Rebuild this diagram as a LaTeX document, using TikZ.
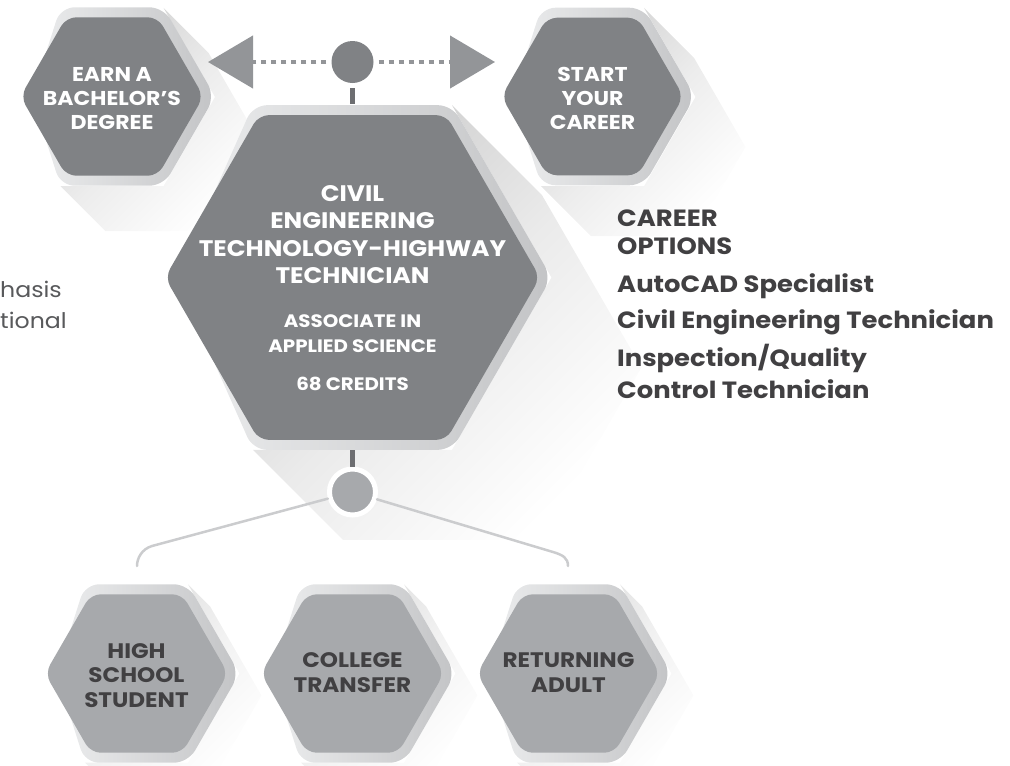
\documentclass[tikz,border=0pt]{standalone}
\usepackage{fontspec}
\setmainfont{Poppins}[FakeStretch=1.1]
\usetikzlibrary{arrows.meta}
\definecolor{hexdark}{HTML}{808285}
\definecolor{hexlight}{HTML}{A7A9AC}
\definecolor{ringL}{HTML}{ECEDEE}
\definecolor{ringR}{HTML}{C3C4C6}
\definecolor{txtdark}{HTML}{414042}
\definecolor{fraggray}{HTML}{58595B}
\definecolor{arrgray}{HTML}{939598}
\definecolor{stemgray}{HTML}{6D6E71}
\definecolor{branchgray}{HTML}{CBCCCE}
\newcommand\hexpath[4]{%
  \pgfmathsetmacro\myhh{0.866*(#3)}%
  \pgfmathsetmacro\myhw{0.5*(#3)}%
  \path[#4] (#1,#2+\myhh) -- (#1-\myhw,#2+\myhh) -- (#1-#3,#2) -- (#1-\myhw,#2-\myhh)
    -- (#1+\myhw,#2-\myhh) -- (#1+#3,#2) -- (#1+\myhw,#2+\myhh) -- cycle;}
\newcommand\hexshadow[5]{%
  \pgfmathsetmacro\myhh{0.866*(#3)}%
  \pgfmathsetmacro\myhw{0.5*(#3)}%
  \shade[shadowfill=#5] (#1+\myhw,#2-\myhh) -- (#1+#3,#2) -- (#1+\myhw,#2+\myhh) -- (#1-\myhw,#2+\myhh)
    -- (#1-\myhw+#4,#2+\myhh+#4) -- (#1+\myhw+#4,#2+\myhh+#4) -- (#1+#3+#4,#2+#4)
    -- (#1+\myhw+#4,#2-\myhh+#4) -- cycle;}
\newcommand\hexagonbox[4]{% cx cy innerhalfwidth fillcolor
  \hexpath{#1}{#2}{#3+11.5}{rounded corners=14pt, left color=ringL, right color=ringR}%
  \hexpath{#1}{#2}{#3}{rounded corners=10pt, fill=#4}}
\tikzset{
  shadowfill/.style={top color=black!#1, bottom color=white, middle color=black!#1!white!40, shading angle=45},
  toptext/.style={text=white, font=\bfseries\fontsize{20}{23.8}\selectfont, align=center, inner sep=0pt, anchor=base},
  bottext/.style={text=txtdark, font=\bfseries\fontsize{21}{24.5}\selectfont, align=center, inner sep=0pt, anchor=base},
  careertext/.style={text=txtdark, font=\bfseries\fontsize{23.5}{27.5}\selectfont, align=left, inner sep=0pt, anchor=base west},
  stemline/.style={draw=stemgray, line width=5pt},
  dotline/.style={draw=arrgray, line width=4.5pt, dash pattern=on 5.5pt off 4.5pt, -{Triangle[length=45pt,width=52pt]}},
  branch/.style={draw=branchgray, line width=2.5pt, line cap=round},
}
\begin{document}
\begin{tikzpicture}[x=1pt,y=-1pt]
\useasboundingbox (0,0) rectangle (1010,766);
% shadows
\hexshadow{112}{97}{103}{45}{18}
\hexshadow{592.5}{97}{103}{50}{18}
\hexshadow{352.5}{277.5}{199}{90}{20}
\hexshadow{136.5}{673.5}{103}{22}{13}
\hexshadow{352.5}{673.5}{103}{22}{13}
\hexshadow{568.5}{673.5}{103}{22}{13}
% hexagons
\hexagonbox{112}{96.5}{91.5}{hexdark}
\hexagonbox{592.5}{96.5}{91}{hexdark}
\hexagonbox{352.5}{277.5}{187.5}{hexdark}
\hexagonbox{136.5}{673.5}{91.5}{hexlight}
\hexagonbox{352.5}{673.5}{91.5}{hexlight}
\hexagonbox{568.5}{673.5}{91.5}{hexlight}
% texts in hexagons (anchor = baseline of the last line)
\node[toptext] (earn) at (112,129.3) {EARN A\\BACHELOR’S\\DEGREE};
\node[toptext] (start) at (592.5,129) {START\\YOUR\\CAREER};
\node[toptext, font=\bfseries\fontsize{22.5}{27.2}\selectfont] (civil) at (352.5,283.3) {CIVIL\\ENGINEERING\\TECHNOLOGY-HIGHWAY\\TECHNICIAN};
\node[toptext, font=\bfseries\fontsize{18}{25}\selectfont] (aas) at (352.5,352) {ASSOCIATE IN\\APPLIED SCIENCE};
\node[toptext, font=\bfseries\fontsize{18}{25}\selectfont] (credits) at (352.5,390) {68 CREDITS};
\node[bottext] (high) at (136.5,707) {HIGH\\SCHOOL\\STUDENT};
\node[bottext] (college) at (352.5,692) {COLLEGE\\TRANSFER};
\node[bottext] (returning) at (568.5,692) {RETURNING\\ADULT};
% left fragment
\node[text=fraggray, font=\fontsize{21.5}{31}\selectfont, align=left, inner sep=0pt, anchor=base west] (frag) at (0,328) {hasis\\tional};
% career options
\node[careertext] (copt) at (617,254) {CAREER\\OPTIONS};
\node[careertext] (c1) at (617,292) {AutoCAD Specialist};
\node[careertext] (c2) at (617,328) {Civil Engineering Technician};
\node[careertext, font=\bfseries\fontsize{23.5}{32}\selectfont] (c3) at (617,398) {Inspection/Quality\\Control Technician};
% connectors top
\coordinate (ctop) at (352.5,104);
\coordinate (cbot) at (352.5,450);
\coordinate (ltip) at (208,62);
\coordinate (rtip) at (495,62);
\node[circle, fill=hexdark, minimum size=42pt, inner sep=0pt] (tc) at (352.5,62) {};
\draw[stemline, shorten <=5pt] (tc) -- (ctop);
\draw[dotline, shorten <=5pt] (tc) -- (ltip);
\draw[dotline, shorten <=5pt] (tc) -- (rtip);
% connectors bottom
\node[circle, fill=hexlight, draw=white, line width=5pt, minimum size=46pt, inner sep=0pt] (bc) at (352.5,492) {};
\draw[stemline] (cbot) -- (bc);
\coordinate (L1) at (152,546);
\coordinate (L2) at (137,566);
\coordinate (R1) at (553,552);
\coordinate (R2) at (568,566);
\draw[branch] (bc) -- (L1) .. controls +(-10,3) and +(0,-8) .. (L2);
\draw[branch] (bc) -- (R1) .. controls +(10,3) and +(0,-8) .. (R2);
\end{tikzpicture}
\end{document}
